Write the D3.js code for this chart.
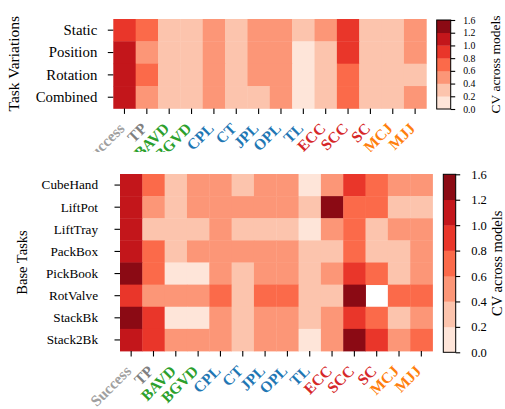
<!DOCTYPE html>
<html><head><meta charset="utf-8">
<script src="https://cdn.jsdelivr.net/npm/d3@7"></script>
<style>body{margin:0;background:#fff}svg{display:block;font-family:"Liberation Serif","Times New Roman",serif}text{font-family:"Liberation Serif","Times New Roman",serif}</style>
</head><body><svg id="c" width="505" height="409"></svg>
<script>
const models=["Success","TP","BAVD","BGVD","CPL","CT","JPL","OPL","TL","ECC","SCC","SC","MCJ","MJJ"];
const modelColors=["#a0a0a0","#808080","#2ca02c","#2ca02c","#1f77b4","#1f77b4","#1f77b4","#1f77b4","#1f77b4","#d62728","#d62728","#d62728","#ff7f0e","#ff7f0e"];
const variations=["Static","Position","Rotation","Combined"];
const variationValues=[
 [0.9,0.7,0.3,0.3,0.5,0.3,0.5,0.5,0.3,0.5,0.9,0.3,0.3,0.5],
 [1.1,0.5,0.3,0.3,0.5,0.3,0.5,0.5,0.1,0.3,0.9,0.3,0.3,0.5],
 [1.1,0.7,0.3,0.3,0.5,0.3,0.5,0.5,0.1,0.3,0.7,0.3,0.3,0.3],
 [1.1,0.5,0.3,0.3,0.5,0.3,0.3,0.5,0.1,0.3,0.7,0.3,0.3,0.5]
];
const baseTasks=["CubeHand","LiftPot","LiftTray","PackBox","PickBook","RotValve","StackBk","Stack2Bk"];
const baseValues=[
 [1.1,0.7,0.3,0.5,0.5,0.3,0.5,0.5,0.1,0.5,0.9,0.7,0.5,0.5],
 [1.1,0.5,0.3,0.5,0.5,0.5,0.5,0.5,0.3,1.4,0.7,0.7,0.3,0.3],
 [1.1,0.3,0.3,0.3,0.5,0.3,0.3,0.3,0.1,0.5,0.7,0.3,0.5,0.5],
 [1.1,0.7,0.3,0.5,0.5,0.5,0.5,0.5,0.3,0.3,0.7,0.3,0.3,0.5],
 [1.4,0.7,0.1,0.1,0.5,0.3,0.5,0.5,0.3,0.5,0.9,0.7,0.3,0.5],
 [0.9,0.5,0.5,0.5,0.7,0.3,0.7,0.7,0.3,0.3,1.4,null,0.7,0.7],
 [1.4,0.9,0.1,0.1,0.5,0.3,0.5,0.5,0.3,0.5,0.9,0.7,0.3,0.5],
 [1.1,0.9,0.5,0.5,0.5,0.3,0.5,0.5,0.1,0.5,1.4,0.9,0.5,0.7]
];
const cbBoundaries=[0,0.2,0.4,0.6,0.8,1.0,1.2,1.6];
const palette=["#fee5d9","#fcc4ad","#fc9677","#fb6a4a","#e9362a","#c3161b","#8b0a14"];

const FONT='"Liberation Serif","Times New Roman",serif';
const svg=d3.select("#c");
const color=d3.scaleThreshold().domain(cbBoundaries.slice(1,-1)).range(palette);

svg.append("defs").append("clipPath").attr("id","topclip")
  .append("rect").attr("x",0).attr("y",0).attr("width",505).attr("height",152);

function heatmap(cfg){
  const g=svg.append("g");
  const x=d3.scaleBand().domain(models).range([cfg.x0,cfg.x1]);
  const y=d3.scaleBand().domain(cfg.rows).range([cfg.y0,cfg.y1]);
  cfg.values.forEach((row,i)=>row.forEach((v,j)=>{
    if(v==null) return;
    g.append("rect").attr("x",x(models[j])).attr("y",y(cfg.rows[i]))
     .attr("width",x.bandwidth()+0.4).attr("height",y.bandwidth()+0.4)
     .attr("fill",color(v));
  }));
  cfg.rows.forEach(r=>{
    const yy=y(r)+y.bandwidth()/2;
    g.append("line").attr("x1",cfg.x0-5.5).attr("x2",cfg.x0).attr("y1",yy).attr("y2",yy).attr("stroke","#000").attr("stroke-width",1.1);
    g.append("text").attr("x",cfg.x0-cfg.ylabPad).attr("y",yy).attr("dy","0.33em")
     .attr("text-anchor","end").attr("font-size",cfg.yfs).attr("font-family",FONT).text(r);
  });
  const lab=g.append("g");
  if(cfg.clip) lab.attr("clip-path","url(#topclip)");
  models.forEach((m,j)=>{
    const xx=x(m)+x.bandwidth()/2;
    g.append("line").attr("x1",xx).attr("x2",xx).attr("y1",cfg.y1).attr("y2",cfg.y1+5.5).attr("stroke","#000").attr("stroke-width",1.1);
    lab.append("text").attr("transform",`translate(${xx+1},${cfg.y1+21}) rotate(-45)`)
     .attr("text-anchor","end").attr("font-size",15.5).attr("font-weight","bold").attr("font-family",FONT)
     .attr("fill",modelColors[j]).text(m);
  });
  g.append("text").attr("transform",`translate(${cfg.titleX},${(cfg.y0+cfg.y1)/2}) rotate(-90)`)
   .attr("text-anchor","middle").attr("font-size",cfg.titleFs).attr("font-family",FONT).text(cfg.title);
  const cb=svg.append("g");
  const yc=d3.scalePoint().domain(cbBoundaries).range([cfg.cb.y1,cfg.cb.y0]);
  for(let i=0;i<cbBoundaries.length-1;i++){
    cb.append("rect").attr("x",cfg.cb.x0).attr("y",yc(cbBoundaries[i+1]))
      .attr("width",cfg.cb.x1-cfg.cb.x0).attr("height",yc(cbBoundaries[i])-yc(cbBoundaries[i+1])+0.3)
      .attr("fill",palette[i]);
  }
  cb.append("rect").attr("x",cfg.cb.x0).attr("y",cfg.cb.y0).attr("width",cfg.cb.x1-cfg.cb.x0)
    .attr("height",cfg.cb.y1-cfg.cb.y0).attr("fill","none").attr("stroke","#000").attr("stroke-width",1);
  const ax=cb.append("g").attr("transform",`translate(${cfg.cb.x1},0)`)
    .call(d3.axisRight(yc).tickSize(4.5).tickPadding(cfg.cb.pad).tickFormat(d=>d.toFixed(1)));
  ax.attr("font-family",FONT);
  ax.select(".domain").remove();
  ax.selectAll("line").attr("stroke-width",1.1);
  ax.selectAll("text").attr("font-size",cfg.cb.fs).attr("font-family",FONT).attr("fill","#000");
  cb.append("text").attr("transform",`translate(${cfg.cb.titleX},${(cfg.cb.y0+cfg.cb.y1)/2}) rotate(-90)`)
   .attr("text-anchor","middle").attr("font-size",cfg.cb.titleFs).attr("font-family",FONT).text("CV across models");
}

heatmap({rows:variations,values:variationValues,
  x0:113.3,x1:426.3,y0:19,y1:108.4,ylabPad:16,yfs:14.8,clip:true,
  title:"Task Variations",titleX:19,titleFs:15.5,
  cb:{x0:436.7,x1:450.7,y0:20,y1:109,fs:9.8,pad:8,titleX:500,titleFs:13.5}});

heatmap({rows:baseTasks,values:baseValues,
  x0:120,x1:432.5,y0:174,y1:351,ylabPad:22,yfs:13.2,clip:false,
  title:"Base Tasks",titleX:27,titleFs:14.5,
  cb:{x0:443.3,x1:455.7,y0:174.3,y1:352.3,fs:12.5,pad:11,titleX:502,titleFs:14.5}});
</script></body></html>
